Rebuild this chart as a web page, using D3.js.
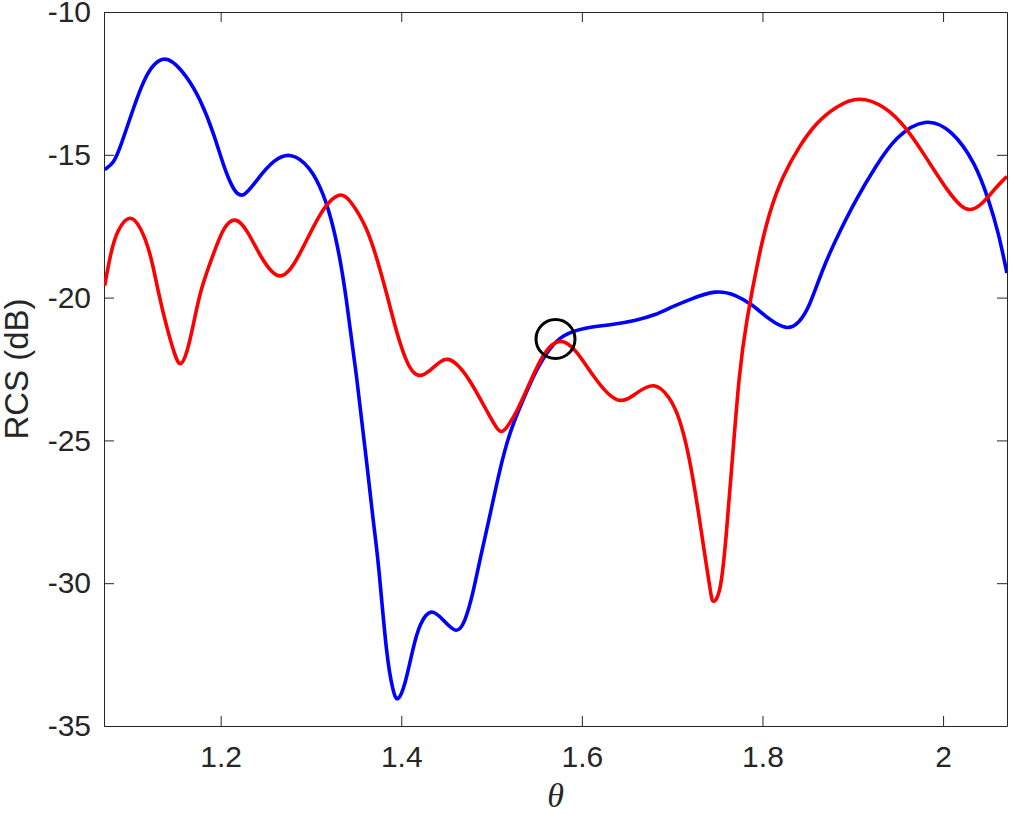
<!DOCTYPE html>
<html>
<head>
<meta charset="utf-8">
<script src="https://cdn.jsdelivr.net/npm/d3@7"></script>
<style>
  body { margin: 0; background: #fff; }
  .axis text { font-family: "Liberation Sans", Arial, Helvetica, sans-serif; font-size: 30px; fill: #262626; }
  .axis path, .axis line { stroke: #262626; stroke-width: 1; }
</style>
</head>
<body>
<div id="chart"></div>
<script>
// blue curve
const blueTheta = [1.0715, 1.0818, 1.0892, 1.1039, 1.1149, 1.126, 1.1408, 1.1629, 1.1776, 1.1923,
  1.2033, 1.2144, 1.2248, 1.2402, 1.2586, 1.2778, 1.2991, 1.3138, 1.3249, 1.3323,
  1.3378, 1.3507, 1.3618, 1.3691, 1.3746, 1.3839, 1.3912, 1.3956, 1.4041, 1.4133,
  1.4207, 1.4328, 1.4464, 1.4612, 1.4704, 1.4796, 1.487, 1.498, 1.509, 1.5196,
  1.5348, 1.5496, 1.5643, 1.579, 1.6011, 1.6343, 1.6601, 1.6822, 1.6969, 1.719,
  1.7485, 1.7706, 1.789, 1.8073, 1.8276, 1.8405, 1.8516, 1.8663, 1.8811, 1.9032,
  1.9253, 1.9473, 1.9806, 2.01, 2.0358, 2.0505, 2.0615, 2.0707];
const blueRcs = [-15.52, -15.29, -14.71, -13.31, -12.37, -11.79, -11.5, -12.25, -13.07, -14.24,
  -15.41, -16.28, -16.55, -15.87, -15.17, -14.9, -15.41, -16.34, -17.51, -18.67,
  -19.72, -22.76, -25.79, -27.89, -29.18, -32.68, -33.83, -34.2, -33.61, -32.21,
  -31.39, -30.85, -31.28, -31.8, -31.39, -30.34, -29.18, -27.66, -26.03, -24.74,
  -23.58, -22.52, -21.76, -21.3, -21.06, -20.95, -20.8, -20.6, -20.36, -20.07,
  -19.72, -19.9, -20.25, -20.77, -21.15, -20.89, -20.36, -19.02, -17.97, -16.57,
  -15.41, -14.36, -13.68, -14.12, -15.29, -16.57, -17.74, -19.14];

// red curve
const redTheta = [1.0715, 1.0781, 1.0855, 1.0995, 1.1113, 1.1224, 1.1306, 1.1408, 1.15, 1.1555,
  1.1629, 1.1702, 1.1776, 1.1923, 1.2033, 1.2162, 1.2292, 1.2439, 1.2568, 1.2678,
  1.2807, 1.2955, 1.3138, 1.3323, 1.3433, 1.3618, 1.3746, 1.3856, 1.3949, 1.406,
  1.4133, 1.4207, 1.4312, 1.4428, 1.4519, 1.463, 1.4759, 1.498, 1.5054, 1.5109,
  1.5165, 1.5275, 1.5422, 1.5569, 1.5754, 1.5938, 1.6122, 1.6398, 1.6601, 1.6803,
  1.6969, 1.7079, 1.719, 1.7282, 1.7374, 1.743, 1.7448, 1.7536, 1.7596, 1.7669,
  1.7742, 1.7817, 1.7964, 1.8073, 1.822, 1.8405, 1.859, 1.8811, 1.9068, 1.9363,
  1.9584, 1.9806, 2.0063, 2.021, 2.0303, 2.0431, 2.0578, 2.0707];
const redRcs = [-19.58, -18.44, -17.62, -17.05, -17.51, -18.44, -19.78, -21.12, -22.1, -22.45,
  -21.94, -20.89, -19.72, -18.44, -17.51, -17.15, -17.62, -18.56, -19.14, -19.33,
  -18.91, -17.97, -16.81, -16.28, -16.57, -17.51, -18.79, -20.07, -21.24, -22.29,
  -22.64, -22.78, -22.58, -22.23, -22.1, -22.35, -22.87, -24.16, -24.57, -24.75,
  -24.57, -24.04, -22.99, -21.94, -21.36, -21.82, -22.76, -23.83, -23.34, -22.93,
  -23.46, -24.16, -25.56, -27.31, -29.29, -30.4, -30.75, -30.4, -28.48, -25.56,
  -22.64, -20.89, -18.44, -17.04, -15.76, -14.71, -13.89, -13.31, -12.93, -13.31,
  -14.01, -15.06, -16.34, -16.85, -16.97, -16.75, -16.16, -15.76];

// circled point
const markTheta = [1.5708];
const markRcs = [-21.45];

const xTicks = [1.2, 1.4, 1.6, 1.8, 2];
const yTicks = [-35, -30, -25, -20, -15, -10];

const width = 1010;
const height = 815;
const margin = { top: 12, right: 3, bottom: 89, left: 104 };
const w = width - margin.left - margin.right;
const h = height - margin.top - margin.bottom;

const svg = d3
  .select("#chart")
  .append("svg")
  .attr("width", width)
  .attr("height", height);

const g = svg.append("g").attr("transform", `translate(${margin.left},${margin.top})`);

const x = d3.scaleLinear().domain([Math.PI / 2 - 0.5, Math.PI / 2 + 0.5]).range([0, w]);
const y = d3.scaleLinear().domain([-35, -10]).range([h, 0]);

g.append("clipPath").attr("id", "clip")
  .append("rect").attr("width", w).attr("height", h);

//axes, ticks pointing inward
g.append("g")
  .attr("class", "axis")
  .attr("transform", `translate(0,${h})`)
  .call(d3.axisBottom(x).tickValues(xTicks).tickSizeInner(-10).tickSizeOuter(0).tickPadding(20).tickFormat(d3.format("")))
  .call((a) => a.selectAll("text").attr("dy", "0.71em"));

g.append("g")
  .attr("class", "axis")
  .call(d3.axisTop(x).tickValues(xTicks).tickSizeInner(-10).tickSizeOuter(0).tickFormat(""));

g.append("g")
  .attr("class", "axis")
  .call(d3.axisLeft(y).tickValues(yTicks).tickSizeInner(-10).tickSizeOuter(0).tickPadding(13).tickFormat(d3.format("")))
  .call((a) => a.selectAll("text").text((d) => String(d).replace("\u2212", "-")));

g.append("g")
  .attr("class", "axis")
  .attr("transform", `translate(${w},0)`)
  .call(d3.axisRight(y).tickValues(yTicks).tickSizeInner(-10).tickSizeOuter(0).tickFormat(""));

const line = d3.line()
  .x((d) => x(d[0]))
  .y((d) => y(d[1]))
  .curve(d3.curveBasis);

const plot = g.append("g").attr("clip-path", "url(#clip)");

plot.append("path")
  .datum(d3.zip(blueTheta, blueRcs))
  .attr("fill", "none")
  .attr("stroke", "#0000ff")
  .attr("stroke-width", 3.6)
  .attr("stroke-linejoin", "round")
  .attr("d", line);

plot.append("path")
  .datum(d3.zip(redTheta, redRcs))
  .attr("fill", "none")
  .attr("stroke", "#ff0000")
  .attr("stroke-width", 3.6)
  .attr("stroke-linejoin", "round")
  .attr("d", line);

plot.selectAll("circle.mark")
  .data(d3.zip(markTheta, markRcs))
  .enter()
  .append("circle")
  .attr("class", "mark")
  .attr("cx", (d) => x(d[0]))
  .attr("cy", (d) => y(d[1]))
  .attr("r", 19.5)
  .attr("fill", "none")
  .attr("stroke", "#000")
  .attr("stroke-width", 3);

//axis labels
svg.append("text")
  .attr("transform", `translate(28,${margin.top + h / 2}) rotate(-90)`)
  .attr("text-anchor", "middle")
  .style("font-family", '"Liberation Sans", Arial, Helvetica, sans-serif')
  .style("font-size", "33px")
  .style("fill", "#262626")
  .text("RCS (dB)");

svg.append("text")
  .attr("x", margin.left + w / 2)
  .attr("y", 807)
  .attr("text-anchor", "middle")
  .style("font-family", '"Liberation Serif", "Times New Roman", serif')
  .style("font-style", "italic")
  .style("font-size", "34px")
  .style("fill", "#262626")
  .text("θ");
</script>
</body>
</html>
